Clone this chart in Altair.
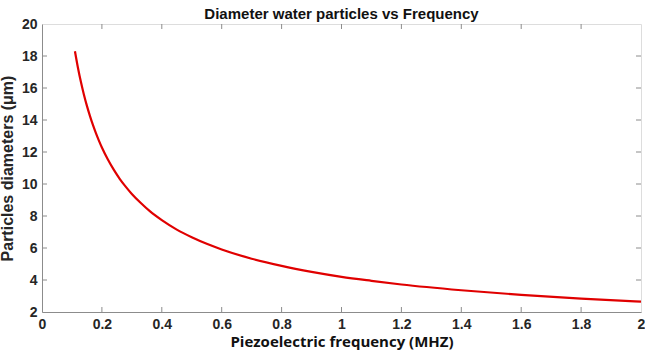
import altair as alt
import pandas as pd

freq = [0.11, 0.12, 0.13, 0.14, 0.15, 0.16, 0.17, 0.18, 0.19, 0.2, 0.22, 0.24, 0.26, 0.28, 0.3,
        0.33, 0.36, 0.4, 0.45, 0.5, 0.55, 0.6, 0.7, 0.8, 0.9, 1.0, 1.1, 1.2, 1.4, 1.6, 1.8, 2.0]
diam = [18.3, 17.27, 16.37, 15.58, 14.88, 14.26, 13.69, 13.18, 12.71, 12.28, 11.53, 10.88, 10.31,
        9.82, 9.38, 8.81, 8.30, 7.74, 7.15, 6.67, 6.26, 5.91, 5.33, 4.88, 4.51, 4.20, 3.95, 3.72,
        3.36, 3.07, 2.84, 2.65]

x_ticks = [0, 0.2, 0.4, 0.6, 0.8, 1, 1.2, 1.4, 1.6, 1.8, 2]
y_ticks = [2, 4, 6, 8, 10, 12, 14, 16, 18, 20]

df = pd.DataFrame({"f": freq, "d": diam})

GRAY = "#8c8c8c"
LAB = "#262626"
xs = alt.Scale(domain=[0, 2], nice=False, zero=False)
ys = alt.Scale(domain=[2, 20], nice=False, zero=False)

xaxis = alt.Axis(values=x_ticks, title="Piezoelectric frequency (MHZ)", ticks=False,
                 labelFontWeight="bold", labelFontSize=14, labelColor=LAB,
                 labelFont="Liberation Sans", labelPadding=5, labelOverlap=False,
                 titleFont="Open Sans", titleFontSize=15, titleFontWeight="bold",
                 titleColor="#111111", titlePadding=3,
                 domainColor=GRAY, labelFlush=False, format="~g", grid=False)
yaxis = alt.Axis(values=y_ticks, title="Particles diameters (μm)", ticks=False,
                 labelFontWeight="bold", labelFontSize=14, labelColor=LAB,
                 labelFont="Liberation Sans", labelPadding=5, labelOverlap=False,
                 titleFont="Liberation Sans", titleFontSize=16, titleFontWeight="bold",
                 titleColor=LAB, titlePadding=6,
                 domainColor=GRAY, labelFlush=False, grid=False)

line = alt.Chart(df).mark_line(color="#e00000", strokeWidth=2.2, interpolate="monotone").encode(
    x=alt.X("f:Q", scale=xs, axis=xaxis),
    y=alt.Y("d:Q", scale=ys, axis=yaxis),
)

bx = pd.DataFrame({"v": x_ticks[1:-1]})
by = pd.DataFrame({"v": y_ticks[1:-1]})

xt_bottom = alt.Chart(bx).mark_rule(color=GRAY, strokeWidth=1).encode(
    x=alt.X("v:Q", scale=xs, axis=xaxis), y=alt.value(288), y2=alt.value(283))
xt_top = alt.Chart(bx).mark_rule(color=GRAY, strokeWidth=1).encode(
    x=alt.X("v:Q", scale=xs, axis=xaxis), y=alt.value(0), y2=alt.value(5))
yt_left = alt.Chart(by).mark_rule(color=GRAY, strokeWidth=1).encode(
    y=alt.Y("v:Q", scale=ys, axis=yaxis), x=alt.value(0), x2=alt.value(5))
yt_right = alt.Chart(by).mark_rule(color=GRAY, strokeWidth=1).encode(
    y=alt.Y("v:Q", scale=ys, axis=yaxis), x=alt.value(599), x2=alt.value(594))

chart = alt.layer(line, xt_bottom, xt_top, yt_left, yt_right).properties(
    width=599, height=288,
    title=alt.TitleParams("Diameter water particles vs Frequency", font="Liberation Sans",
                          fontSize=15, fontWeight="bold", color="#111111", offset=4, dy=9),
    autosize=alt.AutoSizeParams(type="none"),
    padding={"left": 42, "top": 24, "right": 4, "bottom": 44},
).configure_view(stroke=GRAY, strokeWidth=1).configure(background="white")

chart.save("out.html", embed_options={"renderer": "svg", "actions": False})
